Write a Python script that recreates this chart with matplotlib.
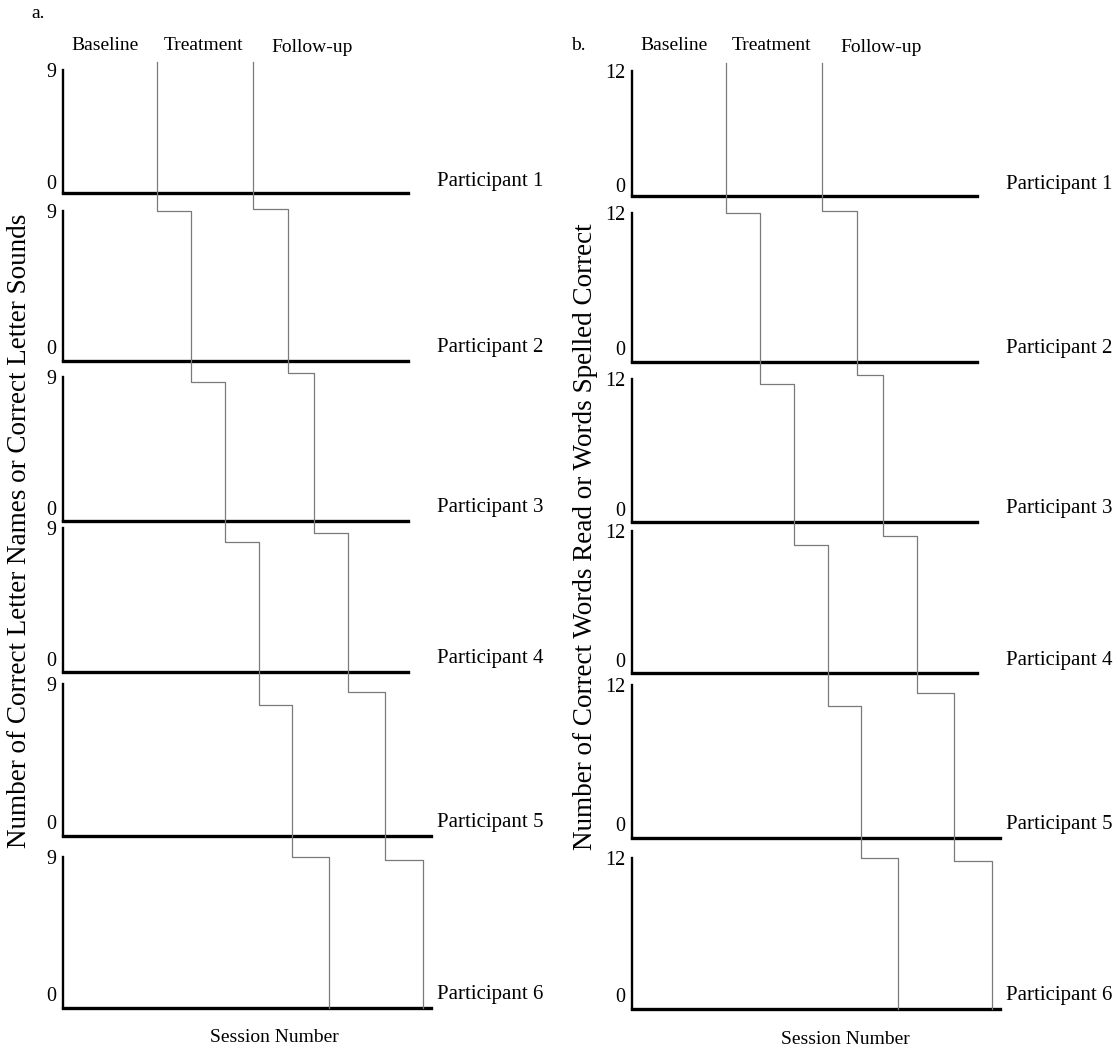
"""
Multiple-baseline design template: a. letters, b. words
"""

import matplotlib
matplotlib.use("Agg")
import matplotlib.pyplot as plt
from matplotlib.lines import Line2D
import numpy as np

plt.rcParams['font.family'] = ['Liberation Serif', 'DejaVu Serif']

# ---- chart content ----
participants = ["Participant 1", "Participant 2", "Participant 3",
                "Participant 4", "Participant 5", "Participant 6"]
phase_names = ["Baseline", "Treatment", "Follow-up"]
panel_tags = ["a.", "b."]
ylabels = ["Number of Correct Letter Names or Correct Letter Sounds",
           "Number of Correct Words Read or Words Spelled Correct"]
ymax = [9, 12]
xlabel = "Session Number"

# session where each phase begins, per participant (same design in both panels)
treatment_start = [8.2, 11.1, 14.1, 17.0, 19.9, 23.1]
followup_start = [16.5, 19.6, 21.8, 24.8, 28.0, 31.3]
# length of each participant's session axis
session_max = [30, 30, 30, 30, 32, 32]

# height (fraction of next participant's axes) where the phase line steps over
treatment_step = [1.0, 0.965, 0.90, 0.86, 1.0]
followup_step = [1.013, 1.028, 0.965, 0.947, 0.98]

# ---- layout (pixels) ----
W, H = 1114, 1053
px_per_session = 11.5
panel_x0 = [63, 632]
rows = [
    [(70, 193), (211, 361), (377, 521), (528, 672), (684, 836), (857, 1008)],
    [(71, 196), (213, 362), (379, 522), (531, 673), (685, 838), (858, 1009)],
]
ylabel_pos = [(20, 531), (585, 537)]
xlabel_pos = [(274, 1037), (845, 1040)]
tag_pos = [(38, 14), (578, 45)]

fig = plt.figure(figsize=(W / 100, H / 100), dpi=100)


def fx(x):
    return x / W


def fy(y):
    return 1 - y / H


phase_color = '#7a7a7a'

for p in range(2):
    x0 = panel_x0[p]
    axs = []
    for i, (top, bot) in enumerate(rows[p]):
        ax = fig.add_axes([fx(x0), fy(bot), session_max[i] * px_per_session / W,
                           (bot - top) / H])
        ax.set_xlim(0, session_max[i])
        ax.set_ylim(-0.1 * ymax[p], ymax[p])
        for s in ['top', 'right']:
            ax.spines[s].set_visible(False)
        ax.spines['left'].set_linewidth(1.7)
        ax.spines['bottom'].set_linewidth(2.4)
        ax.set_xticks([])
        ax.set_yticks([0, ymax[p]])
        ax.tick_params(axis='y', length=0, pad=5, labelsize=14.5)
        ax.patch.set_alpha(0)
        ax.annotate(participants[i], xy=(fx(x0 + 374), 0),
                    xycoords=('figure fraction', 'data'),
                    ha='left', va='center', fontsize=15)
        axs.append(ax)

    # phase change lines, stepping down across participants
    inv = fig.transFigure.inverted()
    for starts, steps in [(treatment_start, treatment_step),
                          (followup_start, followup_step)]:
        top_frac = 1 + 8 / (rows[p][0][1] - rows[p][0][0])
        pts = [axs[0].get_xaxis_transform().transform((starts[0], top_frac))]
        for i in range(5):
            tr = axs[i + 1].get_xaxis_transform()
            pts.append(tr.transform((starts[i], steps[i])))
            pts.append(tr.transform((starts[i + 1], steps[i])))
        pts.append(axs[5].get_xaxis_transform().transform((starts[5], 0)))
        pts = inv.transform(np.array(pts))
        fig.add_artist(Line2D(pts[:, 0], pts[:, 1], color=phase_color,
                              lw=0.9, transform=fig.transFigure))

    # headers
    header_off = [(42, 45), (140, 45), (249, 48)]
    for name, (dx, y) in zip(phase_names, header_off):
        fig.text(fx(x0 + dx), fy(y), name, ha='center', va='center', fontsize=14)
    fig.text(fx(tag_pos[p][0]), fy(tag_pos[p][1]), panel_tags[p],
             ha='center', va='center', fontsize=14)
    fig.text(fx(ylabel_pos[p][0]), fy(ylabel_pos[p][1]), ylabels[p],
             rotation=90, ha='center', va='center', fontsize=19.5)
    fig.text(fx(xlabel_pos[p][0]), fy(xlabel_pos[p][1]), xlabel,
             ha='center', va='center', fontsize=14)

fig.savefig("out.png", dpi=100)
